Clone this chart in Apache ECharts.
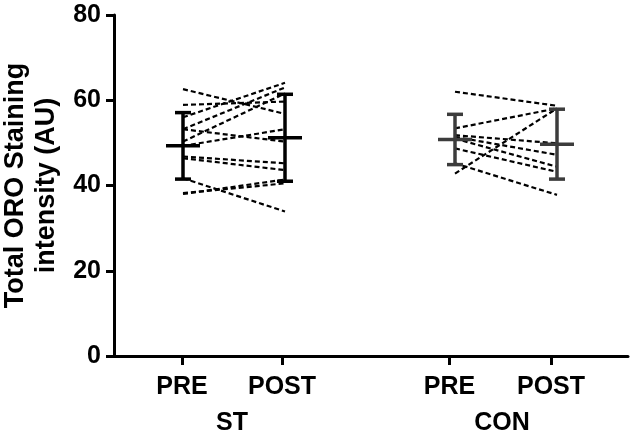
<!DOCTYPE html>
<html>
<head>
<meta charset="utf-8">
<script src="https://cdn.jsdelivr.net/npm/echarts@6/dist/echarts.min.js"></script>
<style>html,body{margin:0;padding:0;background:#fff}#c{width:630px;height:435px}</style>
</head>
<body>
<div id="c"></div>
<script>
// ---- data ----
const timeLabels = ['PRE', 'POST', 'PRE', 'POST'];
const groupLabels = ['ST', 'CON'];
const tickPositions = [68, 168, 335.5, 437];   // x positions of category ticks
const dataPositions = [69, 171, 341, 443];     // x positions of plotted columns
const groupPositions = [118, 388];
const yTicks = [0, 20, 40, 60, 80];

const stPre  = [62.6, 58.9, 56.0, 53.2, 53.2, 50.3, 49.3, 46.8, 46.4, 41.7, 38.0, 38.2];
const stPost = [56.8, 59.7, 64.1, 63.0, 50.3, 61.6, 53.2, 45.2, 43.6, 33.9, 41.4, 40.5];
const conPre  = [62.0, 53.4, 42.8, 51.8, 51.4, 51.0, 48.7, 45.2];
const conPost = [58.7, 58.1, 58.1, 49.9, 47.2, 44.4, 43.2, 37.8];

const means = [49.3, 51.2, 50.8, 49.7];
const sds   = [7.8, 10.2, 5.9, 8.2];
const barColors = ['#000000', '#000000', '#3c3c3c', '#3c3c3c'];

// ---- build chart ----
const chart = echarts.init(document.getElementById('c'), null, {renderer: 'canvas'});
const FONT = '"Liberation Sans", Arial, sans-serif';

const series = [];
function addPairs(pre, post, x0, x1) {
  for (let i = 0; i < pre.length; i++) {
    series.push({
      type: 'line',
      xAxisIndex: 0,
      data: [[x0, pre[i]], [x1, post[i]]],
      symbol: 'none',
      silent: true,
      lineStyle: {color: '#000', width: 2.2, type: [5, 3]},
      z: 2
    });
  }
}
addPairs(stPre, stPost, dataPositions[0], dataPositions[1]);
addPairs(conPre, conPost, dataPositions[2], dataPositions[3]);

const ebData = means.map((m, i) => [dataPositions[i], m, m - sds[i], m + sds[i], i]);
series.push({
  type: 'custom',
  xAxisIndex: 0,
  data: ebData,
  encode: {x: 0, y: [1, 2, 3]},
  z: 5,
  renderItem: function (params, api) {
    const x = api.value(0);
    const m = api.value(1), lo = api.value(2), hi = api.value(3);
    const idx = api.value(4);
    const pm = api.coord([x, m]);
    const pl = api.coord([x, lo]);
    const ph = api.coord([x, hi]);
    const col = barColors[idx];
    const st = {stroke: col, lineWidth: 3.5};
    const capW = 8, meanW = 17;
    return {
      type: 'group',
      children: [
        {type: 'line', shape: {x1: pm[0], y1: ph[1], x2: pm[0], y2: pl[1]}, style: st},
        {type: 'line', shape: {x1: pm[0] - capW, y1: ph[1], x2: pm[0] + capW, y2: ph[1]}, style: st},
        {type: 'line', shape: {x1: pm[0] - capW, y1: pl[1], x2: pm[0] + capW, y2: pl[1]}, style: st},
        {type: 'line', shape: {x1: pm[0] - meanW, y1: pm[1], x2: pm[0] + meanW, y2: pm[1]}, style: st}
      ]
    };
  }
});

const option = {
  animation: false,
  backgroundColor: '#fff',
  grid: {left: 114, right: 2, top: 15, bottom: 79, containLabel: false, outerBoundsMode: 'none'},
  xAxis: [{
    type: 'value',
    min: 0, max: 514,
    position: 'bottom',
    splitLine: {show: false},
    axisLine: {show: true, onZero: false, lineStyle: {color: '#000', width: 3}},
    axisTick: {show: true, customValues: tickPositions, length: 9, lineStyle: {color: '#000', width: 3}},
    axisLabel: {
      customValues: tickPositions,
      formatter: function (v) { const i = tickPositions.indexOf(v); return i >= 0 ? timeLabels[i] : ''; },
      color: '#000', fontFamily: FONT, fontWeight: 'bold', fontSize: 25, margin: 19
    }
  }, {
    type: 'value',
    min: 0, max: 514,
    position: 'bottom',
    splitLine: {show: false},
    axisLine: {show: false},
    axisTick: {show: false},
    axisLabel: {
      customValues: groupPositions,
      formatter: function (v) { const i = groupPositions.indexOf(v); return i >= 0 ? groupLabels[i] : ''; },
      color: '#000', fontFamily: FONT, fontWeight: 'bold', fontSize: 25, margin: 55
    }
  }],
  yAxis: {
    type: 'value',
    min: 0, max: 80, interval: 20,
    splitLine: {show: false},
    axisLine: {show: true, lineStyle: {color: '#000', width: 3}},
    axisTick: {show: true, length: 8, lineStyle: {color: '#000', width: 3}},
    axisLabel: {
      formatter: function (v) { return yTicks.indexOf(v) >= 0 ? String(v) : ''; },
      color: '#000', fontFamily: FONT, fontWeight: 'bold', fontSize: 25, margin: 13
    },
    name: 'Total ORO Staining\nintensity (AU)',
    nameLocation: 'middle',
    nameRotate: 90,
    nameGap: 48,
    nameTextStyle: {color: '#000', fontFamily: FONT, fontWeight: 'bold', fontSize: 27, lineHeight: 31, align: 'center'}
  },
  series: series
};
chart.setOption(option);
</script>
</body>
</html>
